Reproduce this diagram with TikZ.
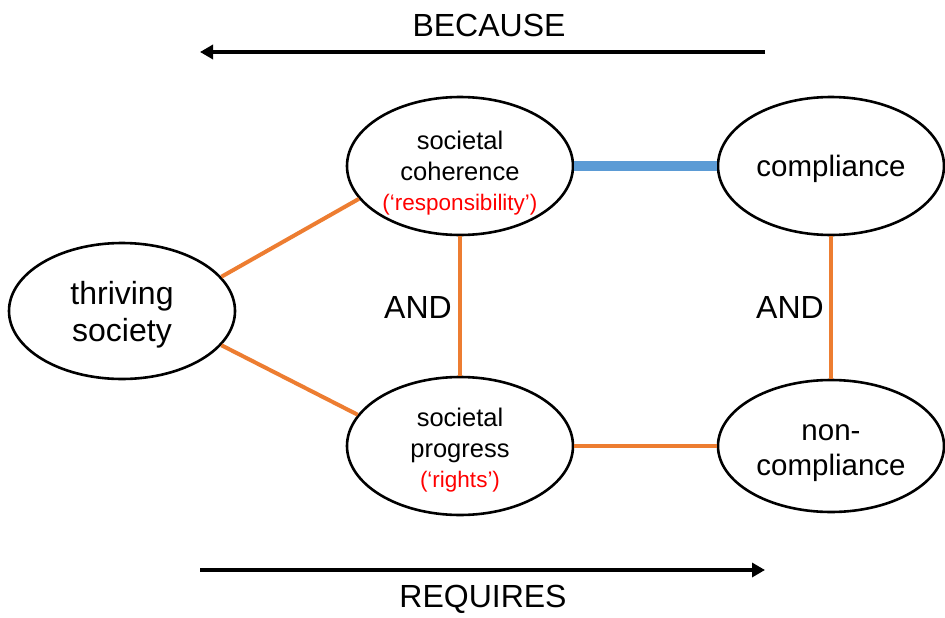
\documentclass[tikz,border=0pt]{standalone}
\usepackage{fontspec}
\setmainfont{Liberation Sans}
\usetikzlibrary{shapes.geometric,arrows.meta}
\definecolor{orng}{RGB}{237,125,49}
\definecolor{blu}{RGB}{91,155,213}
\definecolor{redtxt}{RGB}{255,0,0}
\tikzset{
  oval/.style={ellipse, draw=black, line width=2.6pt, fill=white, inner sep=0pt,
    minimum width=226pt, minimum height=138pt},
  otext/.style={align=center, inner sep=0pt},
  olink/.style={draw=orng, line width=4pt},
  blink/.style={draw=blu, line width=10pt},
  bigarrow/.style={draw=black, line width=4.5pt, -{Triangle[length=13pt,width=14pt]}},
  lbl/.style={inner sep=0pt, font=\fontsize{32}{38}\selectfont},
}
\newcommand{\redtxt}{\fontsize{22.5}{29}\selectfont\color{redtxt}}
\begin{document}
\begin{tikzpicture}[x=1pt,y=-1pt]
\useasboundingbox (0,0) rectangle (945,618);
\node[oval, minimum height=136pt,
  label={[otext, yshift=-3.5pt, font=\fontsize{32}{37}\selectfont]center:thriving\\society}] (ts) at (122,311) {};
\node[oval,
  label={[otext, yshift=-7pt, font=\fontsize{25.5}{31.5}\selectfont]center:societal\\coherence\\[-2pt]{\redtxt (‘responsibility’)}}] (sc) at (460,166) {};
\node[oval,
  label={[otext, yshift=-3pt, font=\fontsize{29.5}{36}\selectfont]center:compliance}] (cp) at (831,166) {};
\node[oval,
  label={[otext, yshift=-4pt, font=\fontsize{25.5}{31.5}\selectfont]center:societal\\progress\\[-2pt]{\redtxt (‘rights’)}}] (sp) at (460,446) {};
\node[oval, minimum height=132pt,
  label={[otext, yshift=-7pt, font=\fontsize{29.5}{35}\selectfont]center:non-\\compliance}] (nc) at (831,446) {};
\draw[blink] (sc.east) -- (cp.west);
\draw[olink] (ts.19) -- (sc.198);
\draw[olink] (ts.341) -- (sp.163);
\draw[olink] (sc.south) -- (sp.north);
\draw[olink] (cp.south) -- (nc.north);
\draw[olink] (sp.east) -- (nc.west);
\node[lbl] (and1) at (418,307) {AND};
\node[lbl] (and2) at (790,307) {AND};
\coordinate (t1) at (765,52);
\coordinate (t2) at (200,52);
\coordinate (b1) at (200,570);
\coordinate (b2) at (765,570);
\draw[bigarrow] (t1) -- (t2);
\draw[bigarrow] (b1) -- (b2);
\node[lbl] (because) at (489,25) {BECAUSE};
\node[lbl] (requires) at (483,599) {REQUIRES};
\end{tikzpicture}
\end{document}
